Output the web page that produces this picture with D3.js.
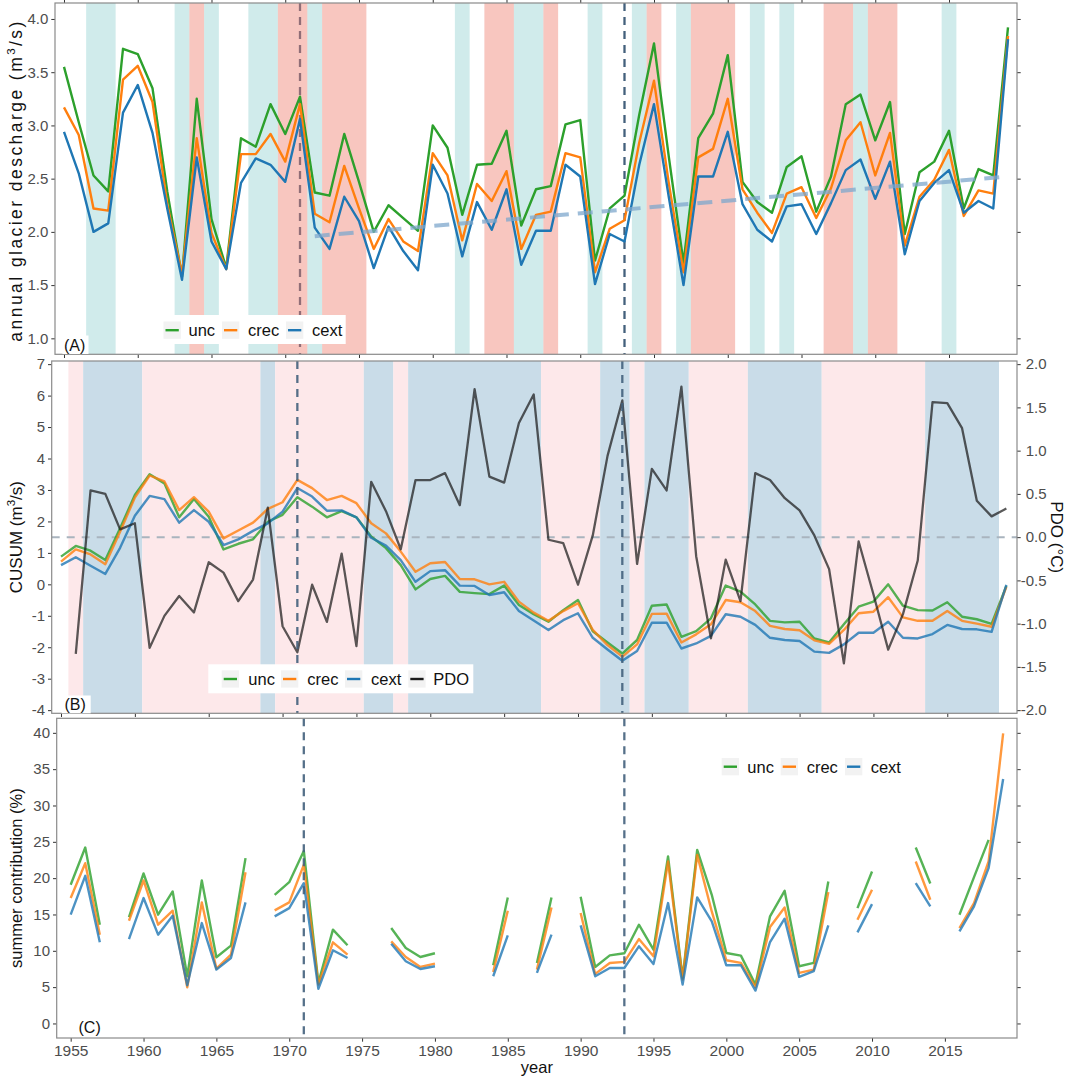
<!DOCTYPE html>
<html><head><meta charset="utf-8">
<script src="https://cdn.jsdelivr.net/npm/d3@7/dist/d3.min.js"></script>
<style>
body{margin:0;background:#fff}
svg{display:block}
text{font-family:"Liberation Sans",Arial,Helvetica,sans-serif}
</style>
</head><body>
<svg id="chart" width="1065" height="1078"></svg>
<script>
// ---------------- DATA ----------------
const years = [1955,1956,1957,1958,1959,1960,1961,1962,1963,1964,1965,1966,1967,1968,1969,1970,1971,1972,1973,1974,1975,1976,1977,1978,1979,1980,1981,1982,1983,1984,1985,1986,1987,1988,1989,1990,1991,1992,1993,1994,1995,1996,1997,1998,1999,2000,2001,2002,2003,2004,2005,2006,2007,2008,2009,2010,2011,2012,2013,2014,2015,2016,2017,2018,2019];
const seriesNames = ["unc","crec","cext"];
const seriesColors = ["#2ca02c","#ff7f0e","#1f77b4"];

// (A) annual glacier discharge (m3/s)
const dischargeUnc = [3.55,3.03,2.53,2.38,3.72,3.67,3.35,2.38,1.58,3.25,2.12,1.66,2.88,2.80,3.20,2.92,3.27,2.37,2.34,2.92,2.47,2.00,2.25,2.13,2.01,3.00,2.79,2.16,2.63,2.64,2.95,2.06,2.40,2.43,3.01,3.05,1.73,2.22,2.34,3.10,3.77,2.71,1.71,2.88,3.11,3.66,2.47,2.28,2.18,2.61,2.71,2.19,2.52,3.20,3.29,2.86,3.22,1.98,2.56,2.66,2.95,2.22,2.59,2.53,3.92];
const dischargeCrec = [3.17,2.91,2.22,2.20,3.43,3.56,3.22,2.26,1.60,2.88,1.99,1.65,2.73,2.73,2.92,2.66,3.20,2.17,2.09,2.62,2.22,1.84,2.12,1.91,1.82,2.74,2.53,1.92,2.45,2.29,2.57,1.84,2.16,2.19,2.74,2.70,1.62,2.03,2.11,2.84,3.42,2.46,1.62,2.70,2.78,3.25,2.40,2.18,1.99,2.36,2.42,2.13,2.41,2.86,3.03,2.53,2.93,1.87,2.33,2.49,2.77,2.15,2.39,2.36,3.84];
const dischargeCext = [2.94,2.55,2.00,2.08,3.12,3.38,2.93,2.22,1.55,2.70,1.91,1.65,2.46,2.69,2.63,2.47,3.06,2.04,1.84,2.33,2.10,1.66,2.05,1.82,1.64,2.63,2.36,1.77,2.28,2.02,2.40,1.69,2.01,2.01,2.63,2.52,1.51,1.98,1.91,2.63,3.20,2.33,1.50,2.52,2.52,2.94,2.26,2.02,1.91,2.24,2.26,1.98,2.27,2.58,2.68,2.31,2.66,1.79,2.29,2.46,2.58,2.18,2.29,2.22,3.81];
const trendYears = [1972, 2019];
const trendValues = [1.96, 2.52];

// (B) CUSUM (m3/s)
const cusumUnc = [0.88,1.22,1.07,0.77,1.78,2.84,3.50,3.21,2.13,2.71,2.15,1.11,1.29,1.43,1.99,2.21,2.77,2.47,2.13,2.33,2.13,1.52,1.15,0.61,-0.16,0.17,0.27,-0.24,-0.28,-0.31,-0.04,-0.66,-0.95,-1.19,-0.82,-0.50,-1.49,-1.85,-2.20,-1.77,-0.68,-0.64,-1.67,-1.49,-1.08,-0.04,-0.23,-0.64,-1.16,-1.21,-1.19,-1.72,-1.85,-1.27,-0.71,-0.55,0.00,-0.68,-0.82,-0.83,-0.57,-1.03,-1.11,-1.26,-0.05];
const cusumCrec = [0.72,1.11,0.95,0.64,1.67,2.76,3.46,3.27,2.36,2.77,2.31,1.46,1.71,1.96,2.40,2.61,3.32,3.06,2.68,2.81,2.58,1.94,1.62,1.04,0.40,0.67,0.71,0.17,0.16,0.00,0.08,-0.55,-0.90,-1.16,-0.85,-0.60,-1.45,-1.93,-2.30,-1.91,-0.94,-0.93,-1.85,-1.59,-1.27,-0.50,-0.57,-0.85,-1.32,-1.42,-1.46,-1.78,-1.89,-1.45,-0.92,-0.87,-0.41,-1.05,-1.16,-1.16,-0.85,-1.16,-1.25,-1.35,-0.08];
const cusumCext = [0.61,0.86,0.59,0.33,1.16,2.18,2.81,2.71,1.96,2.36,1.99,1.25,1.43,1.70,1.94,2.31,3.06,2.79,2.34,2.35,2.13,1.48,1.23,0.77,0.08,0.42,0.45,-0.04,-0.05,-0.34,-0.25,-0.85,-1.15,-1.45,-1.14,-0.92,-1.70,-2.07,-2.43,-2.12,-1.22,-1.22,-2.04,-1.88,-1.64,-0.95,-1.03,-1.29,-1.70,-1.77,-1.80,-2.14,-2.18,-1.91,-1.54,-1.54,-1.19,-1.70,-1.72,-1.58,-1.29,-1.42,-1.43,-1.51,-0.02];
const pdoYears = [1956,1957,1958,1959,1960,1961,1962,1963,1964,1965,1966,1967,1968,1969,1970,1971,1972,1973,1974,1975,1976,1977,1978,1979,1980,1981,1982,1983,1984,1985,1986,1987,1988,1989,1990,1991,1992,1993,1994,1995,1996,1997,1998,1999,2000,2001,2002,2003,2004,2005,2006,2007,2008,2009,2010,2011,2012,2013,2014,2015,2016,2017,2018,2019];
const pdoValues = [-1.35,0.54,0.50,0.09,0.16,-1.28,-0.91,-0.68,-0.87,-0.29,-0.41,-0.74,-0.49,0.34,-1.03,-1.33,-0.55,-0.98,-0.19,-1.26,0.64,0.30,-0.14,0.66,0.66,0.74,0.37,1.71,0.70,0.63,1.32,1.65,-0.03,-0.07,-0.55,0.02,0.94,1.58,-0.31,0.79,0.54,1.74,-0.22,-1.17,-0.26,-0.74,0.74,0.66,0.45,0.31,0.02,-0.37,-1.46,-0.05,-0.66,-1.30,-0.89,-0.27,1.56,1.55,1.26,0.42,0.24,0.33];

// (C) summer contribution (%)  (null = no value)
const summerUnc = [19.09,24.21,13.59,null,14.65,20.64,14.97,18.17,6.50,19.68,9.11,10.71,22.75,null,17.71,19.45,23.75,5.58,12.91,10.76,null,null,13.14,10.39,9.15,9.66,null,null,null,8.01,17.35,null,8.33,17.35,null,17.44,7.78,9.38,9.66,13.59,10.16,22.98,6.27,23.89,17.71,9.70,9.34,5.35,14.74,18.26,7.87,8.33,19.54,null,15.88,20.92,null,null,24.21,19.27,null,14.97,20.14,25.26,null];
const summerCrec = [17.26,22.06,12.22,null,14.14,19.68,13.59,15.52,4.99,16.66,7.55,9.47,20.82,null,15.56,16.66,21.83,5.35,11.17,9.47,null,null,11.30,9.15,7.78,8.24,null,null,null,7.09,15.52,null,7.41,15.97,null,15.20,6.82,8.33,8.47,11.62,9.24,22.29,6.04,23.20,15.42,8.70,8.33,4.99,13.27,15.97,6.96,7.41,18.08,null,14.28,18.40,null,null,22.29,17.03,null,13.14,16.57,22.29,39.91];
const summerCext = [14.97,20.32,11.17,null,11.62,17.26,12.22,14.83,5.26,13.82,7.41,9.01,16.66,null,14.74,15.88,19.31,4.76,10.07,9.01,null,null,10.98,8.56,7.50,7.87,null,null,null,6.50,12.13,null,6.96,12.22,null,13.50,6.50,7.64,7.64,10.62,8.19,16.57,5.35,17.35,14.05,8.01,8.01,4.53,11.21,14.42,6.41,7.19,13.50,null,12.54,16.43,null,null,19.31,16.11,null,12.68,16.11,21.37,33.64];

// axes ticks
const xTicks = [1955,1960,1965,1970,1975,1980,1985,1990,1995,2000,2005,2010,2015];
const aTicks = [1.0,1.5,2.0,2.5,3.0,3.5,4.0];
const bTicks = [-4,-3,-2,-1,0,1,2,3,4,5,6,7];
const pdoTicks = [-2.0,-1.5,-1.0,-0.5,0.0,0.5,1.0,1.5,2.0];
const cTicks = [0,5,10,15,20,25,30,35,40];
const breakYears = [1971, 1993];

// shading periods
const aShadeFrom = [1956.5,1962.5,1963.5,1964.5,1967.5,1969.5,1971.5,1972.5,1981.5,1983.5,1985.5,1987.5,1990.5,1993.5,1994.5,1996.5,1997.5,2001.5,2003.5,2006.5,2008.5,2009.5,2014.5];
const aShadeTo   = [1958.5,1963.5,1964.5,1965.5,1969.5,1971.5,1972.5,1975.5,1982.5,1985.5,1987.5,1988.5,1991.5,1994.5,1995.5,1997.5,2000.5,2002.5,2004.5,2008.5,2009.5,2011.5,2015.5];
const aShadeKind = ["c","c","w","c","c","w","c","w","c","w","c","w","c","c","w","c","w","c","c","w","c","w","c"];
const bShadeFrom = [1955.5,1956.5,1960.5,1968.5,1969.5,1975.5,1977.5,1978.5,1987.5,1991.5,1993.5,1994.5,1997.5,2001.5,2006.5,2013.5];
const bShadeTo   = [1956.5,1960.5,1968.5,1969.5,1975.5,1977.5,1978.5,1987.5,1991.5,1993.5,1994.5,1997.5,2001.5,2006.5,2013.5,2018.5];
const bShadeKind = ["w","c","w","c","w","c","w","c","w","c","w","c","w","c","w","c"];

// ---------------- DRAWING ----------------
const svg = d3.select("#chart");
const TICK_COL = "#333333", LAB_COL = "#4d4d4d", BORDER = "#8a8a8a";

const P = {
  A:{l:55, r:1017, t:3, b:354.3, xd:[1954.39,2019.61], yd:[0.85,4.15]},
  B:{l:51.7, r:1017, t:361, b:713.3, xd:[1954.37,2019.72], yd:[-4.1,7.1]},
  C:{l:56.7, r:1017, t:718.3, b:1038, xd:[1954.04,2019.95], yd:[-2,42]}
};
for (const k in P){
  const p = P[k];
  p.x = d3.scaleLinear().domain(p.xd).range([p.l,p.r]);
  p.y = d3.scaleLinear().domain(p.yd).range([p.b,p.t]);
  svg.append("clipPath").attr("id","clip"+k).append("rect")
     .attr("x",p.l).attr("y",p.t).attr("width",p.r-p.l).attr("height",p.b-p.t);
  p.g = svg.append("g").attr("clip-path",`url(#clip${k})`);
}
const pdoScale = d3.scaleLinear().domain([(-4.1-1.5)/2.75,(7.1-1.5)/2.75]).range([P.B.b,P.B.t]);

function styleAxis(g, fs){
  g.select(".domain").remove();
  g.selectAll(".tick line").attr("stroke",TICK_COL).attr("stroke-width",1);
  g.selectAll(".tick text").attr("fill",LAB_COL).attr("font-size",fs||15)
    .attr("font-family",'"Liberation Sans",Arial,sans-serif');
}
function series(arr, yrs){ return (yrs||years).map((yr,i)=>({yr, v:arr[i]})); }

// ---- Panel A ----
(function(){
  const p = P.A, g = p.g;
  g.selectAll("line.brk").data(breakYears).join("line")
    .attr("x1",d=>p.x(d)).attr("x2",d=>p.x(d)).attr("y1",p.t).attr("y2",p.b)
    .attr("stroke","#43607c").attr("stroke-width",2.3).attr("stroke-dasharray","8,6");
  const shades = aShadeFrom.map((f,i)=>({f, t:aShadeTo[i], k:aShadeKind[i]}));
  g.selectAll("rect.sh").data(shades).join("rect")
    .attr("x",d=>p.x(d.f)).attr("width",d=>p.x(d.t)-p.x(d.f))
    .attr("y",p.t).attr("height",p.b-p.t)
    .attr("fill",d=>d.k==="w"?"rgb(240,128,112)":"rgb(100,190,190)")
    .attr("fill-opacity",d=>d.k==="w"?0.45:0.3);
  const line = d3.line().defined(d=>d.v!=null).x(d=>p.x(d.yr)).y(d=>p.y(d.v));
  [dischargeUnc,dischargeCrec,dischargeCext].forEach((arr,i)=>{
    g.append("path").datum(series(arr)).attr("d",line).attr("fill","none")
      .attr("stroke",seriesColors[i]).attr("stroke-width",2.4).attr("stroke-linejoin","round");
  });
  g.append("path").datum(series(trendValues,trendYears)).attr("d",line).attr("fill","none")
    .attr("stroke","#7ea7cc").attr("stroke-opacity",0.75).attr("stroke-width",4)
    .attr("stroke-dasharray","15,9");
  styleAxis(svg.append("g").attr("transform",`translate(${p.l},0)`)
    .call(d3.axisLeft(p.y).tickValues(aTicks).tickSize(3.7).tickPadding(3).tickFormat(d3.format(".1f"))));
  styleAxis(svg.append("g").attr("transform",`translate(${p.r},0)`)
    .call(d3.axisRight(p.y).tickValues(aTicks).tickSize(3.7).tickFormat("")));
  styleAxis(svg.append("g").attr("transform",`translate(0,${p.b})`)
    .call(d3.axisBottom(p.x).tickValues(xTicks).tickSize(3.7).tickFormat("")));
  styleAxis(svg.append("g").attr("transform",`translate(0,${p.t})`)
    .call(d3.axisTop(p.x).tickValues(xTicks).tickSize(3).tickFormat("")));
  svg.append("rect").attr("x",p.l).attr("y",p.t).attr("width",p.r-p.l).attr("height",p.b-p.t)
    .attr("fill","none").attr("stroke",BORDER).attr("stroke-width",1.2);
  const tt = svg.append("text").attr("transform",`translate(22,${(p.t+p.b)/2+3}) rotate(-90)`)
    .attr("text-anchor","middle").attr("font-size",17.5).attr("fill","#111")
    .attr("textLength",320).attr("lengthAdjust","spacing");
  tt.append("tspan").text("annual glacier descharge  (m");
  tt.append("tspan").attr("font-size",11.5).attr("dy",-7).text("3");
  tt.append("tspan").attr("dy",7).text("/s)");
  const lg = svg.append("g");
  lg.append("rect").attr("x",161.7).attr("y",315).attr("width",184).attr("height",29).attr("fill","#fff");
  const keyX=[163.5,222,286], txtX=[188.5,248,312];
  seriesNames.forEach((n,i)=>{
    lg.append("rect").attr("x",keyX[i]).attr("y",321.5).attr("width",17.3).attr("height",17.3).attr("fill","#f2f2f2");
    lg.append("line").attr("x1",keyX[i]+2).attr("x2",keyX[i]+15.3).attr("y1",330.2).attr("y2",330.2)
      .attr("stroke",seriesColors[i]).attr("stroke-width",2.4);
    lg.append("text").attr("x",txtX[i]).attr("y",336).attr("font-size",16.5).attr("fill","#111").text(n);
  });
  svg.append("rect").attr("x",62.5).attr("y",335.5).attr("width",26).attr("height",18.5).attr("fill","#fff");
  svg.append("text").attr("x",64).attr("y",350.5).attr("font-size",16).attr("fill","#111").text("(A)");
})();

// ---- Panel B ----
(function(){
  const p = P.B, g = p.g;
  const shades = bShadeFrom.map((f,i)=>({f, t:bShadeTo[i], k:bShadeKind[i]}));
  g.selectAll("rect.sh").data(shades).join("rect")
    .attr("x",d=>p.x(d.f)).attr("width",d=>p.x(d.t)-p.x(d.f))
    .attr("y",p.t).attr("height",p.b-p.t)
    .attr("fill",d=>d.k==="w"?"#fde8ea":"#c9dce8");
  g.append("line").attr("x1",p.l).attr("x2",p.r).attr("y1",pdoScale(0)).attr("y2",pdoScale(0))
    .attr("stroke","#a9b4be").attr("stroke-width",2).attr("stroke-dasharray","8,7");
  const line = d3.line().defined(d=>d.v!=null).x(d=>p.x(d.yr)).y(d=>p.y(d.v));
  [cusumUnc,cusumCrec,cusumCext].forEach((arr,i)=>{
    g.append("path").datum(series(arr)).attr("d",line).attr("fill","none")
      .attr("stroke",seriesColors[i]).attr("stroke-opacity",0.8).attr("stroke-width",2.4).attr("stroke-linejoin","round");
  });
  const pline = d3.line().x(d=>p.x(d.yr)).y(d=>pdoScale(d.v));
  g.append("path").datum(series(pdoValues,pdoYears)).attr("d",pline).attr("fill","none")
    .attr("stroke","#1a1a1a").attr("stroke-opacity",0.72).attr("stroke-width",2.3).attr("stroke-linejoin","round");
  g.selectAll("line.brk").data(breakYears).join("line")
    .attr("x1",d=>p.x(d)).attr("x2",d=>p.x(d)).attr("y1",p.t).attr("y2",p.b)
    .attr("stroke","#43607c").attr("stroke-opacity",0.9).attr("stroke-width",2.3).attr("stroke-dasharray","8,6");
  styleAxis(svg.append("g").attr("transform",`translate(${p.l},0)`)
    .call(d3.axisLeft(p.y).tickValues(bTicks).tickSize(3.7).tickPadding(3).tickFormat(d=>String(d))));
  const ra = svg.append("g").attr("transform",`translate(${p.r},0)`)
    .call(d3.axisRight(pdoScale).tickValues(pdoTicks).tickSize(3.7).tickPadding(3).tickFormat(d=>d.toFixed(1)));
  styleAxis(ra);
  ra.selectAll(".tick text").attr("text-anchor","end").attr("x",29.5);
  styleAxis(svg.append("g").attr("transform",`translate(0,${p.b})`)
    .call(d3.axisBottom(p.x).tickValues(xTicks).tickSize(3.7).tickFormat("")));
  svg.append("rect").attr("x",p.l).attr("y",p.t).attr("width",p.r-p.l).attr("height",p.b-p.t)
    .attr("fill","none").attr("stroke",BORDER).attr("stroke-width",1.2);
  const tt = svg.append("text").attr("transform",`translate(22,${(p.t+p.b)/2}) rotate(-90)`)
    .attr("text-anchor","middle").attr("font-size",17).attr("fill","#111");
  tt.append("tspan").text("CUSUM (m");
  tt.append("tspan").attr("font-size",11.5).attr("dy",-7).text("3");
  tt.append("tspan").attr("dy",7).text("/s)");
  svg.append("text").attr("transform",`translate(1051,${(p.t+p.b)/2}) rotate(90)`)
    .attr("text-anchor","middle").attr("font-size",17).attr("fill","#111").text("PDO (°C)");
  const lg = svg.append("g");
  lg.append("rect").attr("x",208.3).attr("y",664.3).attr("width",265).attr("height",29).attr("fill","#fff");
  const names = seriesNames.concat(["PDO"]), cols = seriesColors.concat(["#1a1a1a"]);
  const keyX=[221.7,281,345,408.3], txtX=[248.3,307.3,371,433.3];
  names.forEach((n,i)=>{
    lg.append("rect").attr("x",keyX[i]).attr("y",670.3).attr("width",17.3).attr("height",17.3).attr("fill","#f2f2f2");
    lg.append("line").attr("x1",keyX[i]+2).attr("x2",keyX[i]+15.3).attr("y1",679).attr("y2",679)
      .attr("stroke",cols[i]).attr("stroke-width",2.4);
    lg.append("text").attr("x",txtX[i]).attr("y",685).attr("font-size",16.5).attr("fill","#111").text(n);
  });
  svg.append("rect").attr("x",61.7).attr("y",695.5).attr("width",29).attr("height",17.8).attr("fill","#fff");
  svg.append("text").attr("x",64.5).attr("y",710).attr("font-size",16).attr("fill","#111").text("(B)");
})();

// ---- Panel C ----
(function(){
  const p = P.C, g = p.g;
  const line = d3.line().defined(d=>d.v!=null).x(d=>p.x(d.yr)).y(d=>p.y(d.v));
  [summerUnc,summerCrec,summerCext].forEach((arr,i)=>{
    g.append("path").datum(series(arr)).attr("d",line).attr("fill","none")
      .attr("stroke",seriesColors[i]).attr("stroke-opacity",0.8).attr("stroke-width",2.4).attr("stroke-linejoin","round");
  });
  g.selectAll("line.brk").data(breakYears).join("line")
    .attr("x1",d=>p.x(d)).attr("x2",d=>p.x(d)).attr("y1",p.t).attr("y2",p.b)
    .attr("stroke","#43607c").attr("stroke-opacity",0.9).attr("stroke-width",2.3).attr("stroke-dasharray","8,6");
  styleAxis(svg.append("g").attr("transform",`translate(${p.l},0)`)
    .call(d3.axisLeft(p.y).tickValues(cTicks).tickSize(3.7).tickPadding(3)));
  styleAxis(svg.append("g").attr("transform",`translate(${p.r},0)`)
    .call(d3.axisRight(p.y).tickValues(cTicks).tickSize(3.7).tickFormat("")));
  styleAxis(svg.append("g").attr("transform",`translate(0,${p.b})`)
    .call(d3.axisBottom(p.x).tickValues(xTicks).tickSize(3.7).tickPadding(3).tickFormat(d=>String(d))), 15.5);
  svg.append("rect").attr("x",p.l).attr("y",p.t).attr("width",p.r-p.l).attr("height",p.b-p.t)
    .attr("fill","none").attr("stroke",BORDER).attr("stroke-width",1.2);
  svg.append("text").attr("transform",`translate(22,${(p.t+p.b)/2}) rotate(-90)`)
    .attr("text-anchor","middle").attr("font-size",16.5).attr("fill","#111").text("summer contribution (%)");
  svg.append("text").attr("x",(p.l+p.r)/2).attr("y",1073).attr("text-anchor","middle")
    .attr("font-size",16.5).attr("fill","#111").text("year");
  const lg = svg.append("g");
  const keyX=[721.7,780.7,845], txtX=[747.3,806.7,870.7];
  seriesNames.forEach((n,i)=>{
    lg.append("rect").attr("x",keyX[i]).attr("y",758).attr("width",17.3).attr("height",17.3).attr("fill","#f2f2f2");
    lg.append("line").attr("x1",keyX[i]+2).attr("x2",keyX[i]+15.3).attr("y1",766.7).attr("y2",766.7)
      .attr("stroke",seriesColors[i]).attr("stroke-width",2.4);
    lg.append("text").attr("x",txtX[i]).attr("y",772.5).attr("font-size",16.5).attr("fill","#111").text(n);
  });
  svg.append("text").attr("x",78.5).attr("y",1033).attr("font-size",16).attr("fill","#111").text("(C)");
})();
</script>
</body></html>
